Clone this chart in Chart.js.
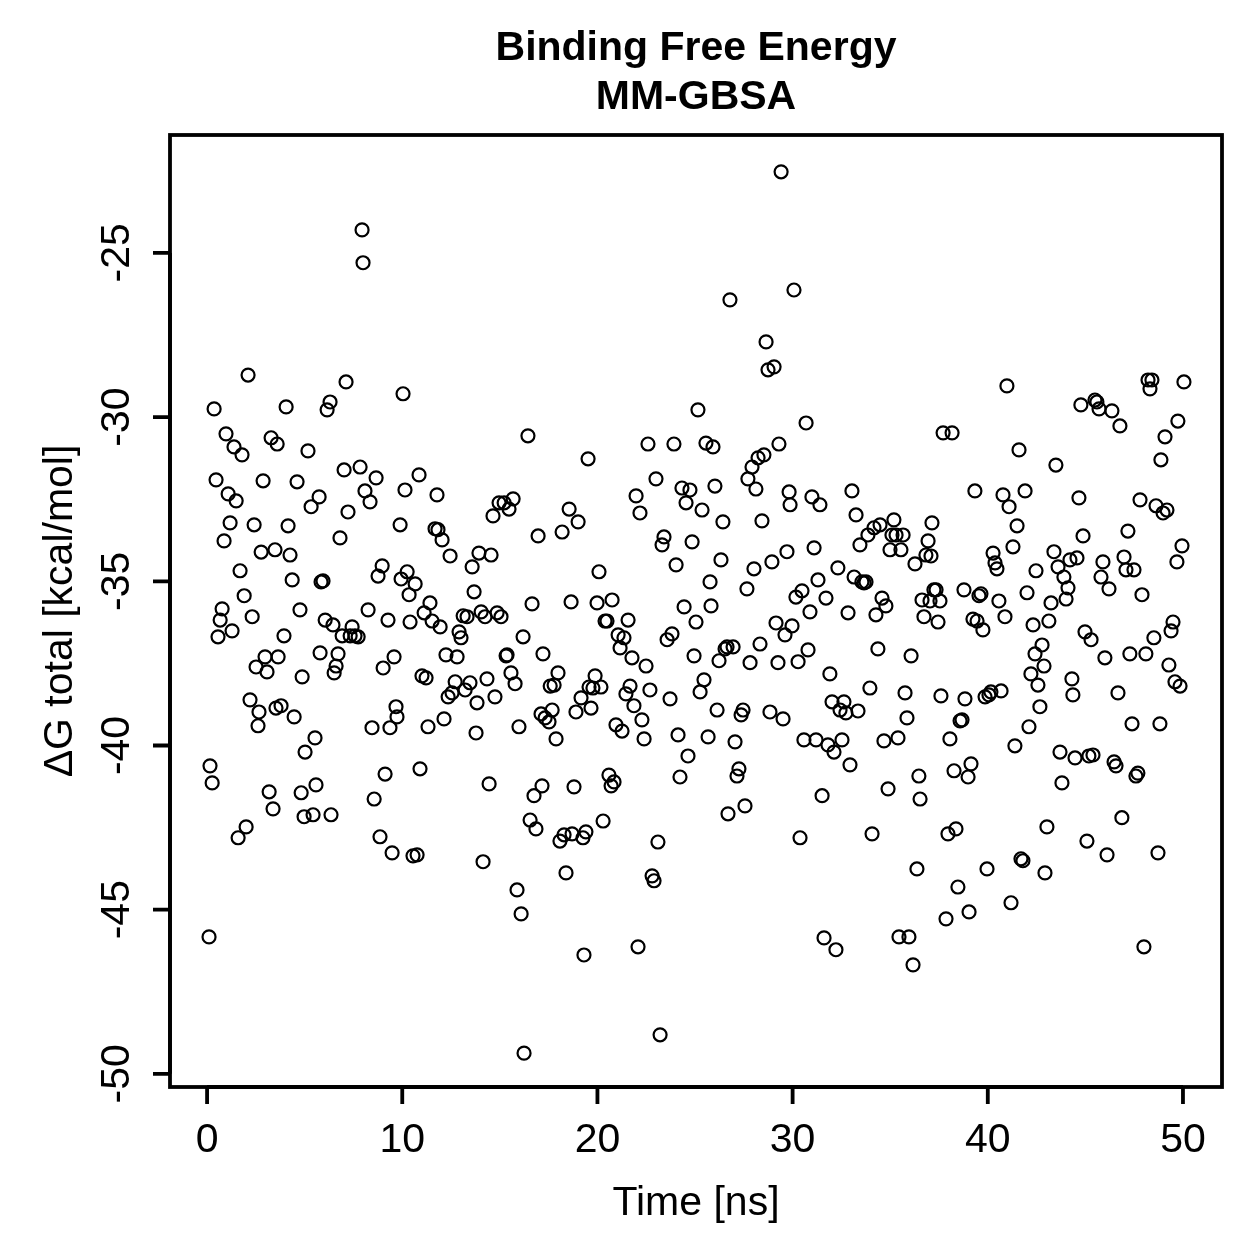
<!DOCTYPE html>
<html>
<head>
<meta charset="utf-8">
<script src="https://cdn.jsdelivr.net/npm/chart.js@4.4.1/dist/chart.umd.min.js"></script>
<style>
  html, body { margin: 0; padding: 0; background: #fff; }
  canvas { display: block; }
</style>
</head>
<body>
<canvas id="c" width="1259" height="1259"></canvas>
<script>
const titleLines = ["Binding Free Energy", "MM-GBSA"];
const xTitle = "Time [ns]";
const yTitle = "\u0394G total [kcal/mol]";
const xTicks = [0, 10, 20, 30, 40, 50];
const yTicks = [-50, -45, -40, -35, -30, -25];

const times = [
0.10,0.15,0.26,0.36,0.46,0.56,0.67,0.77,0.87,0.97,1.08,1.18,1.28,1.38,1.49,1.59,1.69,1.79,1.90,2.00,
2.10,2.20,2.31,2.41,2.51,2.61,2.66,2.77,2.87,2.97,3.07,3.18,3.28,3.38,3.48,3.53,3.59,3.64,3.79,3.94,
4.05,4.15,4.25,4.36,4.46,4.61,4.76,4.82,4.87,4.97,5.02,5.17,5.33,5.43,5.53,5.58,5.74,5.79,5.84,5.94,
6.05,6.15,6.30,6.35,6.45,6.51,6.61,6.71,6.81,6.92,7.02,7.12,7.22,7.33,7.43,7.58,7.74,7.84,7.94,7.99,
8.09,8.25,8.35,8.45,8.56,8.66,8.76,8.86,8.97,9.02,9.12,9.27,9.37,9.48,9.58,9.68,9.73,9.89,9.94,10.04,
10.14,10.25,10.35,10.40,10.55,10.66,10.76,10.86,10.91,11.01,11.12,11.22,11.32,11.42,11.53,11.68,11.78,11.83,11.94,12.04,
12.14,12.24,12.35,12.45,12.55,12.71,12.81,12.91,13.01,13.12,13.22,13.32,13.47,13.58,13.68,13.78,13.83,13.93,14.04,14.14,
14.24,14.34,14.45,14.55,14.65,14.75,14.86,14.96,15.06,15.22,15.32,15.37,15.47,15.57,15.68,15.78,15.88,15.98,16.09,16.19,
16.24,16.44,16.55,16.65,16.75,16.85,16.96,17.11,17.16,17.21,17.32,17.52,17.58,17.68,17.78,17.88,17.98,18.08,18.19,18.29,
18.39,18.55,18.65,18.70,18.80,18.90,19.01,19.16,19.26,19.31,19.41,19.52,19.57,19.67,19.77,19.88,19.98,20.08,20.18,20.29,
20.39,20.49,20.59,20.70,20.75,20.85,20.95,21.06,21.16,21.26,21.36,21.46,21.57,21.67,21.77,21.87,21.98,22.08,22.18,22.28,
22.39,22.49,22.59,22.69,22.80,22.90,23.00,23.10,23.21,23.31,23.41,23.57,23.72,23.82,23.92,24.03,24.13,24.23,24.33,24.44,
24.54,24.64,24.74,24.85,24.95,25.05,25.15,25.26,25.36,25.46,25.56,25.67,25.77,25.82,25.92,26.02,26.13,26.23,26.33,26.43,
26.54,26.64,26.69,26.79,26.95,27.05,27.15,27.25,27.36,27.46,27.56,27.66,27.71,27.82,27.92,28.02,28.12,28.23,28.33,28.43,
28.53,28.64,28.74,28.84,28.94,29.05,29.15,29.25,29.30,29.41,29.51,29.61,29.71,29.82,29.87,29.97,30.07,30.17,30.28,30.38,
30.48,30.58,30.69,30.79,30.89,30.99,31.10,31.20,31.30,31.40,31.51,31.61,31.71,31.81,31.91,32.02,32.12,32.22,32.32,32.43,
32.53,32.63,32.73,32.84,32.94,33.04,33.15,33.25,33.35,33.45,33.55,33.66,33.76,33.86,33.96,34.07,34.17,34.27,34.37,34.48,
34.58,34.68,34.78,34.89,34.99,35.09,35.19,35.30,35.40,35.45,35.55,35.66,35.76,35.86,35.96,36.07,36.17,36.27,36.37,36.47,
36.53,36.63,36.73,36.83,36.94,37.04,37.09,37.14,37.24,37.35,37.45,37.55,37.60,37.71,37.86,37.96,38.06,38.17,38.27,38.37,
38.47,38.58,38.68,38.78,38.83,38.99,39.04,39.14,39.24,39.34,39.45,39.55,39.65,39.75,39.86,39.96,40.06,40.16,40.27,40.37,
40.47,40.57,40.68,40.78,40.88,40.98,41.09,41.19,41.29,41.39,41.50,41.60,41.70,41.80,41.91,42.01,42.11,42.21,42.32,42.42,
42.47,42.57,42.67,42.78,42.88,42.93,43.03,43.13,43.24,43.39,43.49,43.60,43.70,43.80,43.90,44.01,44.11,44.21,44.31,44.36,
44.47,44.57,44.67,44.77,44.88,44.98,45.08,45.18,45.29,45.39,45.49,45.59,45.70,45.80,45.90,46.00,46.11,46.21,46.36,46.47,
46.57,46.67,46.77,46.87,46.98,47.08,47.18,47.28,47.39,47.49,47.59,47.69,47.80,47.90,48.00,48.10,48.21,48.31,48.41,48.51,
48.62,48.72,48.82,48.87,48.98,49.08,49.18,49.28,49.39,49.49,49.59,49.69,49.74,49.85,49.95,50.05
];

const dG = [
-45.83,-40.62,-41.14,-29.75,-31.91,-36.69,-36.18,-35.84,-33.77,-30.51,-32.34,-33.22,-36.51,-30.91,-32.55,-42.81,-34.68,-31.15,-35.44,-42.48,
-28.72,-38.61,-36.08,-33.28,-37.61,-39.40,-38.98,-34.11,-31.94,-37.30,-37.76,-41.41,-30.63,-41.93,-34.04,-38.86,-30.82,-37.30,-38.79,-36.66,
-29.69,-33.31,-34.20,-34.96,-39.13,-31.97,-35.87,-41.44,-37.91,-42.17,-40.20,-31.03,-32.73,-42.11,-39.77,-41.20,-32.43,-37.18,-35.02,-34.99,
-36.18,-29.78,-29.54,-42.11,-36.33,-37.79,-37.58,-37.21,-33.68,-36.66,-31.61,-28.93,-32.89,-36.66,-36.39,-36.66,-36.69,-31.52,-24.30,-25.30,
-32.25,-35.87,-32.58,-39.46,-41.63,-31.85,-34.84,-42.78,-34.53,-37.64,-40.87,-36.18,-39.46,-43.27,-37.30,-38.82,-39.13,-33.28,-34.93,-29.29,
-32.22,-34.71,-35.41,-36.24,-43.36,-35.08,-43.33,-31.76,-40.71,-37.88,-35.96,-37.94,-39.43,-35.66,-36.21,-33.40,-32.37,-33.43,-36.39,-33.74,
-39.19,-37.24,-38.52,-34.23,-38.40,-38.06,-37.30,-36.54,-36.72,-36.05,-38.31,-36.08,-38.09,-34.56,-35.32,-39.62,-38.70,-34.14,-35.93,-43.54,
-36.08,-37.97,-41.17,-34.20,-33.01,-38.52,-35.96,-32.61,-36.08,-32.61,-37.27,-37.24,-32.80,-37.79,-32.49,-38.12,-44.40,-39.43,-45.13,-36.69,
-49.37,-30.57,-42.27,-35.69,-41.53,-42.54,-33.62,-39.04,-41.23,-37.21,-39.16,-39.28,-38.19,-38.92,-38.16,-39.80,-37.79,-42.91,-33.50,-42.72,
-43.88,-32.80,-35.63,-42.69,-41.26,-38.98,-33.19,-38.55,-42.81,-46.38,-42.63,-31.27,-38.22,-38.86,-38.25,-37.88,-35.66,-34.71,-38.22,-42.30,
-36.21,-36.21,-40.90,-41.23,-35.57,-41.11,-39.37,-36.63,-37.03,-39.56,-36.72,-38.43,-36.18,-38.19,-37.33,-38.79,-32.40,-46.13,-32.92,-39.22,
-39.80,-37.58,-30.82,-38.31,-43.97,-44.12,-31.88,-42.94,-48.81,-33.89,-33.65,-36.78,-38.58,-36.60,-30.82,-34.50,-39.68,-40.96,-32.16,-35.78,
-32.61,-40.32,-32.22,-33.80,-37.27,-36.24,-29.78,-38.37,-32.83,-38.00,-30.79,-39.74,-35.02,-35.75,-30.91,-32.10,-38.92,-37.42,-34.35,-33.19,
-37.06,-37.00,-42.08,-26.43,-37.00,-39.89,-40.93,-40.71,-39.07,-38.92,-41.84,-35.23,-31.88,-37.48,-31.52,-34.62,-32.19,-31.24,-36.91,-33.16,
-31.15,-27.71,-28.56,-38.98,-34.41,-28.47,-36.27,-37.48,-30.82,-22.53,-39.19,-36.63,-34.10,-32.28,-32.67,-36.36,-26.13,-35.48,-37.45,-42.81,
-35.29,-39.83,-30.18,-37.09,-35.93,-32.43,-33.98,-39.83,-34.96,-32.67,-41.53,-45.86,-35.51,-39.98,-37.82,-38.67,-40.20,-46.22,-34.59,-38.92,
-39.83,-38.67,-39.01,-35.96,-40.59,-32.25,-34.87,-32.98,-38.95,-33.89,-35.02,-35.05,-35.02,-33.59,-38.25,-42.69,-33.37,-36.02,-37.06,-33.28,
-35.51,-39.86,-35.75,-41.32,-34.04,-33.59,-33.13,-33.59,-39.77,-45.83,-34.04,-33.59,-38.40,-39.16,-45.83,-37.27,-46.68,-34.47,-43.76,-40.93,
-41.63,-35.57,-36.08,-34.20,-33.77,-35.60,-34.23,-33.22,-35.26,-35.26,-36.24,-35.60,-38.49,-30.48,-45.28,-42.69,-39.80,-30.48,-40.77,-42.54,
-44.31,-39.25,-39.22,-35.26,-38.58,-40.96,-45.07,-40.56,-36.15,-32.25,-36.21,-35.44,-35.38,-36.48,-38.52,-43.76,-38.46,-38.37,-34.14,-34.44,
-34.62,-35.60,-38.34,-32.37,-36.08,-29.05,-32.73,-44.79,-33.95,-40.01,-33.31,-31.00,-43.45,-43.51,-32.25,-35.35,-39.43,-37.82,-36.33,-37.21,
-34.68,-38.16,-38.82,-36.94,-37.58,-43.88,-42.48,-36.21,-35.66,-34.10,-31.46,-34.56,-40.20,-41.14,-34.87,-35.54,-35.20,-34.35,-37.97,-38.46,
-40.38,-34.29,-32.46,-29.63,-33.62,-36.54,-42.91,-40.32,-36.78,-40.29,-29.48,-29.54,-29.75,-34.87,-34.41,-37.33,-43.33,-35.23,-29.81,-40.50,
-40.62,-38.40,-30.27,-42.20,-34.26,-34.65,-33.47,-37.21,-39.34,-34.65,-40.93,-40.84,-32.52,-35.41,-46.13,-37.21,-28.87,-29.14,-28.87,-36.72,
-32.70,-43.27,-39.34,-31.30,-32.92,-30.60,-32.83,-37.55,-36.51,-36.24,-38.06,-34.41,-30.12,-38.19,-33.92,-28.93
];

const FONT = '"Liberation Sans", Arial, Helvetica, sans-serif';

const points = times.map((t, i) => ({ x: t, y: dG[i] }));

const rAxes = {
  id: 'rAxes',
  beforeDraw(chart) {
    const c = chart.ctx;
    c.save();
    c.fillStyle = '#fff';
    c.fillRect(0, 0, chart.width, chart.height);
    c.restore();
  },
  afterDraw(chart) {
    const c = chart.ctx;
    const a = chart.chartArea;
    const xs = chart.scales.x, ys = chart.scales.y;
    c.save();
    c.strokeStyle = '#000';
    c.fillStyle = '#000';
    c.lineWidth = 3.8;
    c.lineCap = 'butt';
    c.strokeRect(a.left, a.top, a.right - a.left, a.bottom - a.top);
    const tickLen = 17;
    c.beginPath();
    c.moveTo(xs.getPixelForValue(xTicks[0]), a.bottom);
    c.lineTo(xs.getPixelForValue(xTicks[xTicks.length - 1]), a.bottom);
    xTicks.forEach(v => {
      const px = xs.getPixelForValue(v);
      c.moveTo(px, a.bottom);
      c.lineTo(px, a.bottom + tickLen);
    });
    c.moveTo(a.left, ys.getPixelForValue(yTicks[0]));
    c.lineTo(a.left, ys.getPixelForValue(yTicks[yTicks.length - 1]));
    yTicks.forEach(v => {
      const py = ys.getPixelForValue(v);
      c.moveTo(a.left, py);
      c.lineTo(a.left - tickLen, py);
    });
    c.stroke();

    c.font = '41px ' + FONT;
    c.textAlign = 'center';
    c.textBaseline = 'alphabetic';
    xTicks.forEach(v => {
      c.fillText(String(v), xs.getPixelForValue(v), 1152);
    });
    yTicks.forEach(v => {
      const py = ys.getPixelForValue(v);
      c.save();
      c.translate(129, py);
      c.rotate(-Math.PI / 2);
      c.fillText(String(v), 0, 0);
      c.restore();
    });
    const cx = (a.left + a.right) / 2;
    const cy = (a.top + a.bottom) / 2;
    c.fillText(xTitle, cx, 1215);
    c.save();
    c.translate(72, cy);
    c.rotate(-Math.PI / 2);
    c.fillText(yTitle, 0, 0);
    c.restore();
    c.font = 'bold 41px ' + FONT;
    c.fillText(titleLines[0], cx, 60);
    c.fillText(titleLines[1], cx, 109);
    c.restore();
  }
};

new Chart(document.getElementById('c'), {
  type: 'scatter',
  data: {
    datasets: [{
      data: points,
      pointStyle: 'circle',
      pointRadius: 6.5,
      pointHoverRadius: 6.5,
      borderColor: '#000',
      backgroundColor: 'rgba(0,0,0,0)',
      borderWidth: 2.2,
      clip: false
    }]
  },
  options: {
    responsive: false,
    animation: false,
    devicePixelRatio: 1,
    events: [],
    layout: { padding: { left: 170, top: 135, right: 37, bottom: 172 } },
    plugins: { legend: { display: false }, tooltip: { enabled: false }, title: { display: false } },
    scales: {
      x: { type: 'linear', min: -1.9, max: 52.0, display: false },
      y: { type: 'linear', min: -50.40, max: -21.41, display: false }
    }
  },
  plugins: [rAxes]
});
</script>
</body>
</html>
